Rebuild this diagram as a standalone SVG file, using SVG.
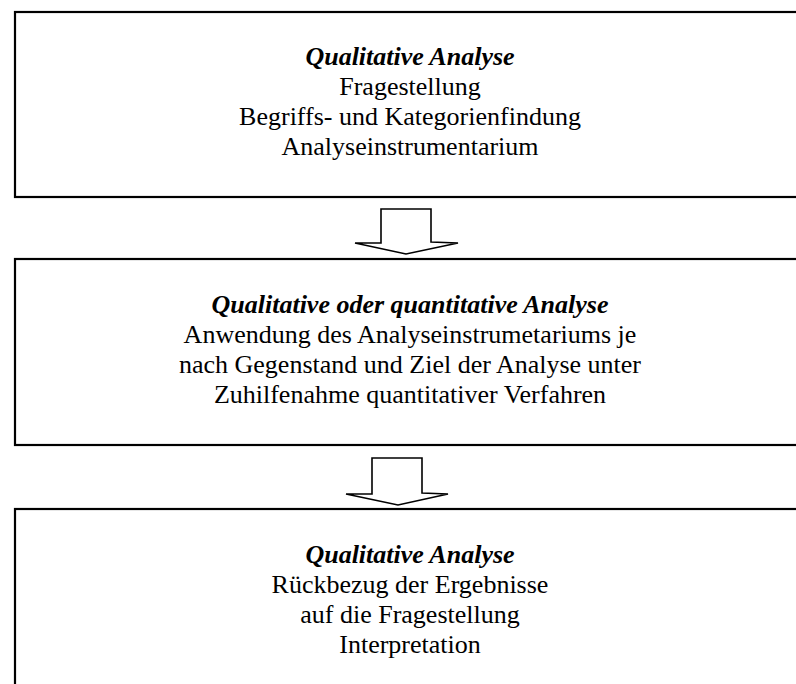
<svg xmlns="http://www.w3.org/2000/svg" width="796" height="684" viewBox="0 0 796 684">
<style>
.box{fill:#fff;stroke:#000;stroke-width:2.2}
.arr{fill:#fff;stroke:#000;stroke-width:1.6;stroke-linejoin:miter}
text{font-family:"Liberation Serif","Times New Roman",serif;font-size:26px;fill:#000;text-anchor:middle}
.h{font-weight:bold;font-style:italic}
</style>
<rect width="796" height="684" fill="#fff"/>
<g id="node1">
<rect class="box" x="15" y="12" width="792" height="185"/>
<text x="410" y="65" class="h">Qualitative Analyse</text>
<text x="410" y="95">Fragestellung</text>
<text x="410" y="125">Begriffs- und Kategorienfindung</text>
<text x="410" y="155">Analyseinstrumentarium</text>
</g>
<g id="node2">
<rect class="box" x="15" y="259" width="792" height="186"/>
<text x="410" y="313" class="h">Qualitative oder quantitative Analyse</text>
<text x="410" y="343">Anwendung des Analyseinstrumetariums je</text>
<text x="410" y="373">nach Gegenstand und Ziel der Analyse unter</text>
<text x="410" y="403">Zuhilfenahme quantitativer Verfahren</text>
</g>
<g id="node3">
<rect class="box" x="15" y="509" width="792" height="186"/>
<text x="410" y="563" class="h">Qualitative Analyse</text>
<text x="410" y="593">Rückbezug der Ergebnisse</text>
<text x="410" y="623">auf die Fragestellung</text>
<text x="410" y="653">Interpretation</text>
</g>
<g id="connectors">
<polygon class="arr" points="381,209 431,209 431,242 458,243 406,254 355,243 381,243"/>
<polygon class="arr" points="372,458 422,458 422,493 448,494 398,505 346,494 372,494"/>
</g>
</svg>
